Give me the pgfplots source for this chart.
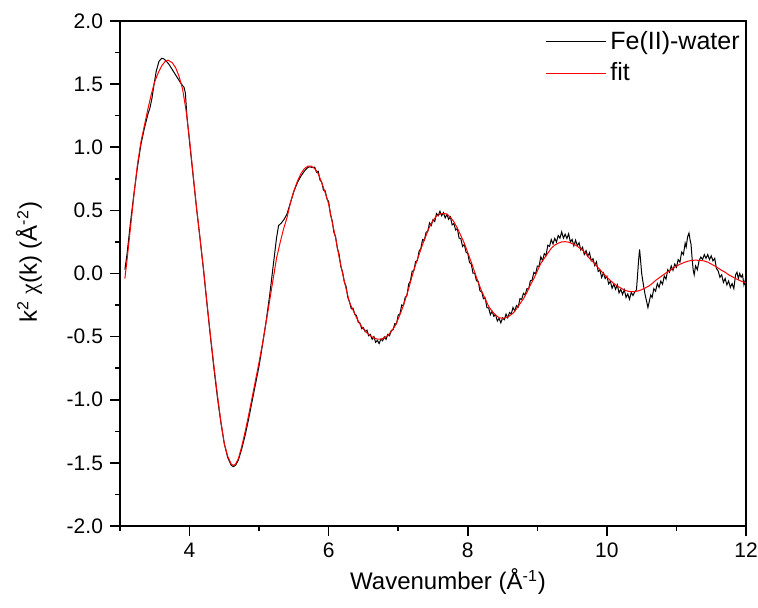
\documentclass[border=0pt]{standalone}
\usepackage{pgfplots}
\pgfplotsset{compat=1.18}
\usepackage{fontspec}
\setmainfont{Liberation Sans}
\newfontfamily\chifont{Liberation Serif}

\pgfplotstableread{
x y
3.07 -0.04
3.10 0.10
3.15 0.36
3.20 0.62
3.25 0.86
3.30 1.04
3.35 1.17
3.40 1.30
3.45 1.42
3.50 1.52
3.55 1.59
3.60 1.645
3.65 1.68
3.69 1.69
3.75 1.67
3.80 1.63
3.85 1.56
3.90 1.46
3.95 1.29
4.00 1.06
4.05 0.79
4.10 0.52
4.15 0.28
4.20 0.04
4.25 -0.23
4.30 -0.49
4.35 -0.73
4.40 -0.96
4.45 -1.17
4.50 -1.35
4.55 -1.45
4.60 -1.51
4.63 -1.52
4.66 -1.51
4.70 -1.47
4.75 -1.37
4.80 -1.25
4.85 -1.12
4.90 -0.98
4.95 -0.84
5.00 -0.70
5.05 -0.55
5.10 -0.39
5.15 -0.22
5.20 -0.05
5.25 0.12
5.30 0.24
5.35 0.35
5.40 0.44
5.45 0.56
5.50 0.655
5.55 0.73
5.60 0.79
5.65 0.83
5.70 0.85
5.75 0.85
5.80 0.83
5.85 0.79
5.90 0.72
5.95 0.64
6.00 0.55
6.05 0.41
6.10 0.28
6.15 0.13
6.20 0.00
6.25 -0.12
6.30 -0.23
6.35 -0.29
6.40 -0.35
6.45 -0.40
6.50 -0.44
6.55 -0.47
6.60 -0.495
6.65 -0.51
6.70 -0.52
6.75 -0.52
6.80 -0.51
6.85 -0.49
6.90 -0.46
6.95 -0.42
7.00 -0.36
7.05 -0.29
7.10 -0.21
7.15 -0.12
7.20 -0.02
7.25 0.07
7.30 0.15
7.35 0.23
7.40 0.30
7.45 0.37
7.50 0.42
7.55 0.455
7.60 0.47
7.65 0.477
7.70 0.47
7.75 0.445
7.80 0.41
7.85 0.36
7.90 0.30
7.95 0.24
8.00 0.165
8.05 0.09
8.10 0.01
8.15 -0.07
8.20 -0.14
8.25 -0.20
8.30 -0.26
8.35 -0.30
8.40 -0.33
8.45 -0.35
8.50 -0.355
8.55 -0.35
8.60 -0.335
8.65 -0.315
8.70 -0.28
8.75 -0.24
8.80 -0.20
8.85 -0.15
8.90 -0.09
8.95 -0.04
9.00 0.02
9.05 0.08
9.10 0.12
9.15 0.16
9.20 0.20
9.25 0.225
9.30 0.24
9.35 0.25
9.40 0.252
9.45 0.248
9.50 0.237
9.55 0.225
9.60 0.205
9.65 0.185
9.70 0.155
9.75 0.12
9.80 0.093
9.85 0.06
9.90 0.03
9.95 0.00
10.00 -0.03
10.05 -0.055
10.10 -0.08
10.15 -0.10
10.20 -0.115
10.25 -0.13
10.30 -0.14
10.35 -0.144
10.40 -0.143
10.45 -0.138
10.50 -0.128
10.55 -0.115
10.60 -0.10
10.65 -0.08
10.70 -0.055
10.75 -0.035
10.80 -0.015
10.85 0.005
10.90 0.022
10.95 0.04
11.00 0.058
11.05 0.073
11.10 0.085
11.15 0.095
11.20 0.102
11.25 0.105
11.30 0.105
11.35 0.103
11.40 0.099
11.45 0.09
11.50 0.075
11.55 0.06
11.60 0.043
11.65 0.025
11.70 0.01
11.75 -0.01
11.80 -0.025
11.85 -0.04
11.90 -0.053
11.95 -0.065
12.00 -0.075
}\fittable

\pgfplotstableread{
x y
3.07 0.03
3.10 0.15
3.15 0.40
3.20 0.63
3.25 0.84
3.30 1.02
3.35 1.15
3.40 1.26
3.43 1.31
3.46 1.39
3.49 1.50
3.52 1.60
3.56 1.68
3.60 1.705
3.63 1.70
3.66 1.685
3.70 1.66
3.74 1.625
3.78 1.59
3.82 1.555
3.86 1.52
3.89 1.495
3.92 1.475
3.94 1.43
3.96 1.26
4.00 1.04
4.05 0.78
4.10 0.52
4.15 0.28
4.20 0.03
4.25 -0.24
4.30 -0.50
4.35 -0.75
4.40 -0.98
4.45 -1.18
4.50 -1.35
4.55 -1.46
4.60 -1.52
4.63 -1.53
4.66 -1.52
4.70 -1.48
4.75 -1.39
4.80 -1.28
4.85 -1.15
4.90 -1.01
4.95 -0.87
5.00 -0.73
5.05 -0.56
5.10 -0.38
5.15 -0.18
5.20 0.05
5.25 0.28
5.28 0.38
5.32 0.40
5.36 0.43
5.40 0.47
5.45 0.56
5.50 0.65
5.55 0.72
5.60 0.77
5.65 0.81
5.70 0.84
5.73 0.845
5.76 0.84
5.800 0.842
5.825 0.802
5.850 0.810
5.875 0.740
5.900 0.725
5.925 0.660
5.950 0.655
5.975 0.592
6.000 0.568
6.025 0.468
6.050 0.418
6.075 0.327
6.100 0.290
6.125 0.199
6.150 0.152
6.175 0.055
6.200 0.012
6.225 -0.068
6.250 -0.100
6.275 -0.190
6.300 -0.225
6.325 -0.280
6.350 -0.275
6.375 -0.323
6.400 -0.332
6.425 -0.387
6.450 -0.392
6.475 -0.438
6.500 -0.430
6.525 -0.461
6.550 -0.448
6.575 -0.493
6.600 -0.483
6.625 -0.521
6.650 -0.500
6.675 -0.545
6.700 -0.530
6.725 -0.555
6.750 -0.520
6.775 -0.533
6.800 -0.502
6.825 -0.522
6.850 -0.482
6.875 -0.493
6.900 -0.450
6.925 -0.446
6.950 -0.398
6.975 -0.400
7.000 -0.329
7.025 -0.320
7.050 -0.249
7.075 -0.255
7.100 -0.188
7.125 -0.176
7.150 -0.085
7.175 -0.059
7.200 0.018
7.225 0.024
7.250 0.095
7.275 0.102
7.300 0.178
7.325 0.197
7.350 0.269
7.375 0.262
7.400 0.326
7.425 0.335
7.450 0.401
7.475 0.380
7.500 0.427
7.525 0.411
7.550 0.475
7.575 0.458
7.600 0.493
7.625 0.457
7.650 0.482
7.675 0.440
7.700 0.468
7.725 0.429
7.750 0.449
7.775 0.385
7.800 0.396
7.825 0.345
7.850 0.356
7.875 0.280
7.900 0.277
7.925 0.214
7.950 0.230
7.975 0.169
8.000 0.158
8.025 0.087
8.050 0.075
8.075 0.002
8.100 0.003
8.125 -0.058
8.150 -0.061
8.175 -0.138
8.200 -0.144
8.225 -0.200
8.250 -0.194
8.275 -0.270
8.300 -0.273
8.325 -0.326
8.350 -0.300
8.375 -0.339
8.400 -0.327
8.425 -0.376
8.450 -0.355
8.475 -0.391
8.500 -0.352
8.525 -0.366
8.550 -0.321
8.575 -0.351
8.600 -0.309
8.625 -0.320
8.650 -0.269
8.675 -0.298
8.700 -0.253
8.725 -0.266
8.750 -0.200
8.775 -0.204
8.800 -0.157
8.825 -0.171
8.850 -0.120
8.875 -0.123
8.900 -0.057
8.925 -0.053
8.950 0.009
8.975 -0.003
9.000 0.059
9.025 0.057
9.050 0.132
9.075 0.101
9.100 0.158
9.125 0.143
9.150 0.224
9.175 0.215
9.200 0.269
9.225 0.234
9.250 0.278
9.275 0.249
9.300 0.301
9.325 0.280
9.350 0.330
9.375 0.280
9.400 0.311
9.425 0.277
9.450 0.315
9.475 0.249
9.500 0.270
9.525 0.219
9.550 0.264
9.575 0.220
9.600 0.244
9.625 0.186
9.650 0.208
9.675 0.151
9.700 0.181
9.725 0.138
9.750 0.165
9.775 0.101
9.800 0.117
9.825 0.064
9.850 0.092
9.875 0.016
9.900 0.028
9.925 -0.032
9.950 0.004
9.975 -0.040
10.000 -0.021
10.025 -0.082
10.050 -0.062
10.075 -0.117
10.100 -0.084
10.125 -0.125
10.150 -0.090
10.175 -0.154
10.200 -0.126
10.225 -0.166
10.250 -0.128
10.275 -0.189
10.300 -0.162
10.325 -0.204
10.350 -0.150
10.375 -0.174
10.400 -0.148
10.425 -0.13
10.440 -0.02
10.455 0.10
10.470 0.19
10.485 0.10
10.500 0.00
10.525 -0.09
10.550 -0.17
10.575 -0.23
10.590 -0.27
10.610 -0.22
10.630 -0.17
10.650 -0.19
10.675 -0.12
10.700 -0.14
10.725 -0.08
10.750 -0.11
10.775 -0.06
10.800 -0.085
10.825 -0.02
10.850 -0.045
10.875 0.03
10.900 0.01
10.925 0.06
10.950 0.025
10.975 0.075
11.000 0.05
11.025 0.11
11.050 0.09
11.075 0.17
11.100 0.15
11.125 0.24
11.140 0.21
11.160 0.29
11.180 0.32
11.195 0.27
11.210 0.23
11.225 0.12
11.240 0.03
11.255 -0.01
11.275 0.06
11.300 0.03
11.325 0.10
11.350 0.13
11.375 0.11
11.400 0.15
11.425 0.12
11.450 0.15
11.475 0.11
11.500 0.14
11.525 0.10
11.550 0.12
11.575 0.04
11.600 0.02
11.625 -0.03
11.650 -0.01
11.675 -0.07
11.700 -0.04
11.725 -0.09
11.750 -0.06
11.775 -0.11
11.800 -0.08
11.825 -0.12
11.850 -0.01
11.870 0.01
11.890 -0.04
11.910 0.00
11.930 -0.03
11.950 -0.01
11.970 -0.09
11.985 -0.06
12.000 -0.12
}\datatable

\begin{document}
\begin{tikzpicture}
\begin{axis}[
  scale only axis, width=313pt, height=252.5pt,
  xmin=3, xmax=12, ymin=-2, ymax=2,
  xtick={4,6,8,10,12}, minor xtick={3,5,7,9,11},
  ytick={-2,-1.5,-1,-0.5,0,0.5,1,1.5,2},
  minor ytick={-1.75,-1.25,-0.75,-0.25,0.25,0.75,1.25,1.75},
  tick pos=left, tick align=outside,
  major tick length=5pt, minor tick length=2.5pt,
  axis line style={line width=0.8pt},
  every tick/.style={black, line width=0.8pt},
  /pgf/number format/assume math mode=true,
  ticklabel style={font=\fontsize{10.5}{12}\selectfont},
  yticklabel style={/pgf/number format/fixed, /pgf/number format/fixed zerofill, /pgf/number format/precision=1},
  xlabel={Wavenumber (Å\textsuperscript{-1})},
  ylabel={k\textsuperscript{2} {\chifont χ}(k) (Å\textsuperscript{-2})},
  label style={font=\fontsize{12}{14}\selectfont},
  xlabel style={at={(axis description cs:0.524,-0.1267)}, anchor=base},
  ylabel style={at={(axis description cs:-0.1326,0.522)}, anchor=base},
  legend style={draw=none, fill=none, at={(axis description cs:1,1)}, anchor=north east,
    font=\fontsize{12.5}{14}\selectfont, row sep=1pt, inner xsep=1pt, inner ysep=3pt},
  legend cell align=left,
  legend image code/.code={\draw[#1] (0pt,0pt) -- (30pt,0pt);},
]
\addplot[black, line width=0.5pt] table[x=x, y=y] {\datatable};
\addlegendentry{Fe(II)-water}
\addplot[red, line width=0.5pt] table[x=x, y=y] {\fittable};
\addlegendentry{fit}
\coordinate (ll) at (rel axis cs:0,0);
\coordinate (ur) at (rel axis cs:1,1);
\end{axis}
\pgfresetboundingbox
\path[use as bounding box] ([xshift=-60pt,yshift=-40.5pt]ll) rectangle ([xshift=6pt,yshift=10.5pt]ur);
\end{tikzpicture}
\end{document}
